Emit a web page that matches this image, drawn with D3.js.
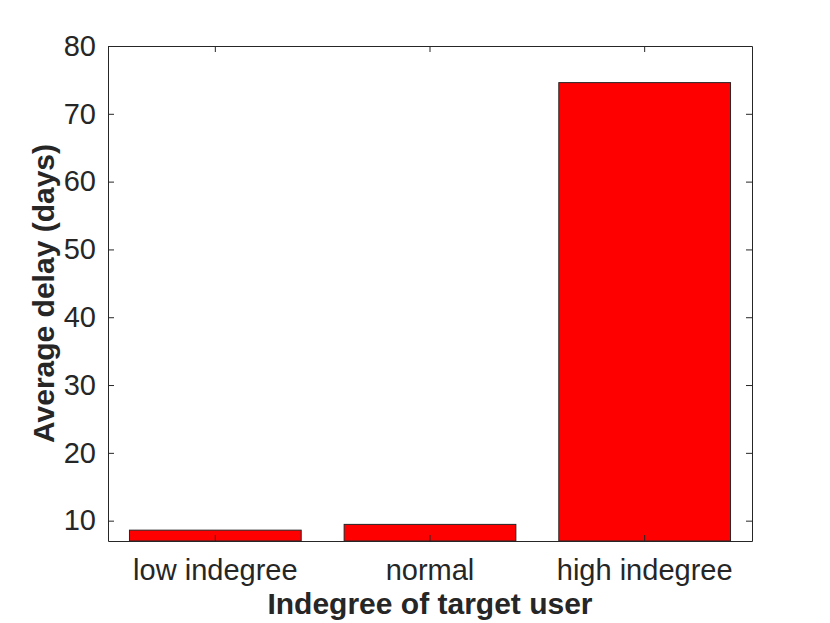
<!DOCTYPE html>
<html>
<head>
<meta charset="utf-8">
<script src="https://cdn.jsdelivr.net/npm/d3@7"></script>
<style>
  body { margin: 0; background: #fff; }
  svg text { font-family: "Liberation Sans", Arial, Helvetica, sans-serif; fill: #262626; }
</style>
</head>
<body>
<div id="chart"></div>
<script>
const categories = ["low indegree", "normal", "high indegree"];
const delays = [8.6, 9.45, 74.6];
const yTicks = [10, 20, 30, 40, 50, 60, 70, 80];

const margin = { top: 46, right: 78, bottom: 82, left: 108 },
      width = 830 - margin.left - margin.right,
      height = 623 - margin.top - margin.bottom;

const svg = d3.select("#chart")
    .append("svg")
    .attr("width", 830)
    .attr("height", 623)
    .append("g")
    .attr("transform", `translate(${margin.left},${margin.top})`);

const x = d3.scaleBand()
    .domain(categories)
    .range([0, width])
    .paddingInner(0.2)
    .paddingOuter(0.1);

const y = d3.scaleLinear()
    .domain([7, 80])
    .range([height, 0]);

// bars
svg.selectAll(".bar")
    .data(categories)
    .enter()
    .append("rect")
    .attr("class", "bar")
    .attr("x", d => x(d))
    .attr("width", x.bandwidth())
    .attr("y", (d, i) => y(delays[i]))
    .attr("height", (d, i) => y(7) - y(delays[i]))
    .attr("fill", "#ff0000")
    .attr("stroke", "#262626")
    .attr("stroke-width", 1);

// axes, matlab style with ticks pointing inward
function styleAxis(g) {
    g.select(".domain").attr("stroke", "#262626");
    g.selectAll(".tick line").attr("stroke", "#262626");
}

svg.append("g")
    .attr("transform", `translate(0,${height})`)
    .call(d3.axisBottom(x).tickSizeInner(-6).tickSizeOuter(0).tickPadding(18))
    .call(styleAxis)
    .call(g => g.selectAll("text").style("font-size", "29px").attr("fill", "#262626"));

svg.append("g")
    .call(d3.axisTop(x).tickSizeInner(-6).tickSizeOuter(0).tickFormat(""))
    .call(styleAxis);

svg.append("g")
    .call(d3.axisLeft(y).tickValues(yTicks).tickSizeInner(-6).tickSizeOuter(0).tickPadding(12))
    .call(styleAxis)
    .call(g => g.selectAll("text").style("font-size", "29px").attr("fill", "#262626"));

svg.append("g")
    .attr("transform", `translate(${width},0)`)
    .call(d3.axisRight(y).tickValues(yTicks).tickSizeInner(-6).tickSizeOuter(0).tickFormat(""))
    .call(styleAxis);

// axis titles
svg.append("text")
    .attr("x", width / 2)
    .attr("y", height + 73)
    .attr("text-anchor", "middle")
    .style("font-size", "30px")
    .style("font-weight", "bold")
    .text("Indegree of target user");

svg.append("text")
    .attr("transform", `translate(${-54},${height / 2}) rotate(-90)`)
    .attr("text-anchor", "middle")
    .style("font-size", "30px")
    .style("font-weight", "bold")
    .text("Average delay (days)");
</script>
</body>
</html>
